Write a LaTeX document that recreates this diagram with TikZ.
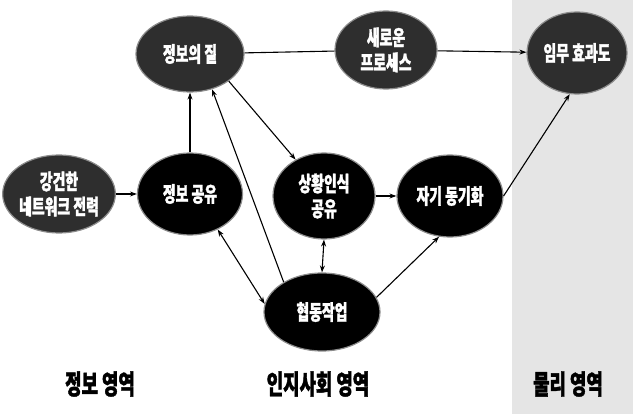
\documentclass[tikz,border=0pt]{standalone}
\usepackage{fontspec}
\newfontfamily\kr{Noto Sans CJK KR}[FakeStretch=0.66, FakeBold=1.5]
\usetikzlibrary{shapes.geometric,arrows.meta}
\tikzset{
  blob/.style={ellipse, fill=black, draw=black!45, line width=1.2pt, inner sep=0pt,
    text=white, font=\kr\bfseries\fontsize{21}{25}\selectfont, align=center},
  greyblob/.style={blob, fill=black!82},
  conn/.style={line width=1.1pt, draw=black},
  arr/.style={conn, -{Stealth[length=7pt,width=5pt]}},
  darr/.style={conn, {Stealth[length=7pt,width=5pt]}-{Stealth[length=7pt,width=5pt]}},
  zone/.style={font=\kr\bfseries\fontsize{27}{30}\selectfont}
}
\begin{document}
\begin{tikzpicture}[x=1pt,y=-1pt]
\useasboundingbox (0,0) rectangle (633,414);
\fill[black!10] (512,0) rectangle (633,414);
\node[greyblob, minimum width=98pt, minimum height=78pt] (rob) at (59,194) {강건한\\네트워크 전력};
\node[blob, minimum width=105pt, minimum height=82pt] (share) at (190,194) {정보 공유};
\node[greyblob, minimum width=108pt, minimum height=76pt] (qual) at (190,54) {정보의 질};
\node[greyblob, minimum width=102pt, minimum height=78pt] (proc) at (386,50) {새로운\\프로세스};
\node[greyblob, minimum width=100pt, minimum height=82pt] (mis) at (577,53) {임무 효과도};
\node[blob, minimum width=102pt, minimum height=86pt] (sa) at (324,196) {상황인식\\공유};
\node[blob, minimum width=106pt, minimum height=82pt] (sync) at (450,196) {자기 동기화};
\node[blob, minimum width=116pt, minimum height=78pt] (col) at (322,312) {협동작업};

\draw[arr] (rob) -- (share);
\draw[arr] (share.north) -- (qual.south);
\draw[arr] (col.142) -- (qual.-58);
\draw[arr] (qual.-35) -- (sa.128);
\draw[darr] (share.-52) -- (col.172);
\draw[darr] (sa.south) -- (col.north);
\draw[arr] (sa) -- (sync);
\draw[arr] (col.15) -- (sync.-105);
\draw[conn] (qual) -- (proc);
\draw[arr] (proc) -- (mis);
\draw[arr] (sync.east) -- (mis.-100);

\node[zone] (z1) at (100,384) {정보 영역};
\node[zone] (z2) at (318,384) {인지사회 영역};
\node[zone] (z3) at (568,384) {물리 영역};
\end{tikzpicture}
\end{document}
